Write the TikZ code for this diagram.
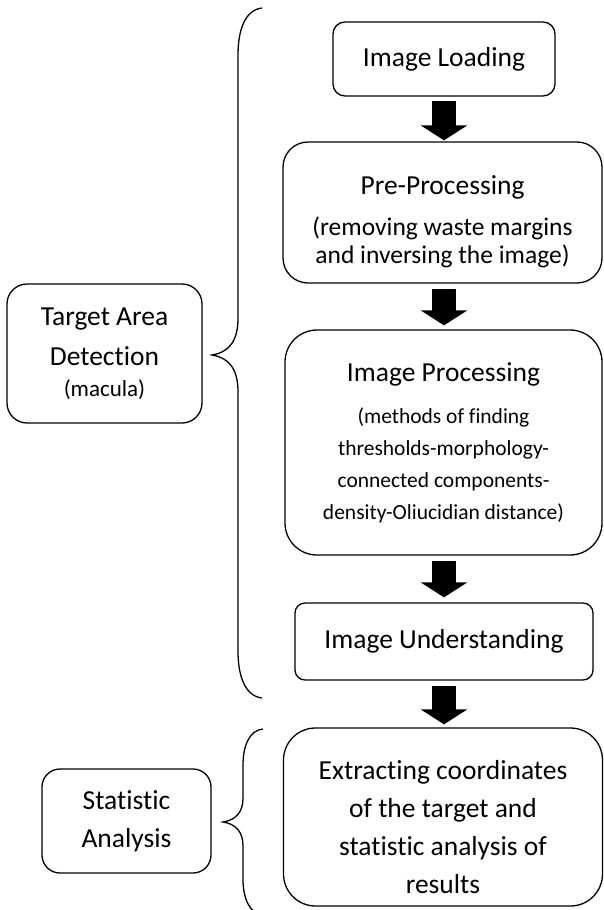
\documentclass[tikz,border=0pt]{standalone}
\usepackage{fontspec}
\setmainfont{Carlito}[RawFeature={-liga;-clig;-dlig}]
\usepackage{tikz}
\usetikzlibrary{arrows.meta, calc}
\newcommand{\subtxt}{\fontsize{25.5}{28}\selectfont}
\newcommand{\smalltxt}{\fontsize{21.5}{32}\selectfont}

\begin{document}
\begin{tikzpicture}[x=1pt, y=-1pt,
  box/.style={draw, line width=1.3pt, align=center, inner sep=0pt, font=\fontsize{27.5}{38}\selectfont},
  blockarrow/.style={line width=24pt, -{Triangle[width=46pt, length=15pt]}},
  brace/.style={line width=1.3pt}]
  \useasboundingbox (0, 0) rectangle (603, 910);
  \node[box, rounded corners=12pt, minimum width=222pt, minimum height=74pt] (load) at (444, 59) {Image Loading};
  \node[box, rounded corners=25pt, minimum width=319pt, minimum height=141pt] (pre) at (442.5, 212.5)
    {\rule{0pt}{38pt}Pre-Processing\\[3pt] \subtxt (removing waste margins\\[-10pt] \subtxt and inversing the image)};
  \node[box, rounded corners=32pt, minimum width=317pt, minimum height=225pt] (proc) at (443.5, 442.5)
    {Image Processing\\[4pt] \smalltxt (methods of finding\\[-6pt] \smalltxt thresholds-morphology-\\[-6pt]
     \smalltxt connected components-\\[-6pt] \smalltxt density-Oliucidian distance)};
  \node[box, rounded corners=10pt, minimum width=298pt, minimum height=77pt] (under) at (444, 641.5) {Image Understanding};
  \node[box, rounded corners=32pt, minimum width=319pt, minimum height=178pt] (extract) at (443, 817)
    {\rule{0pt}{40pt}Extracting coordinates\\ of the target and\\ statistic analysis of\\ results};
  \node[box, rounded corners=20pt, minimum width=195pt, minimum height=139pt] (target) at (104.5, 353.5)
    {Target Area\\[2pt] Detection\\[-7pt] \fontsize{23}{28}\selectfont (macula)};
  \node[box, rounded corners=18pt, minimum width=169pt, minimum height=104pt] (stat) at (126.5, 821)
    {Statistic\\ Analysis};

  \draw[blockarrow] ([yshift=-4pt]load.south) -- ([yshift=1pt]load.south |- pre.north);
  \draw[blockarrow] ([yshift=-5pt]pre.south -| load.south) -- ([yshift=4pt]load.south |- proc.north);
  \draw[blockarrow] ([yshift=-5pt]proc.south -| load.south) -- ([yshift=5pt]load.south |- under.north);
  \draw[blockarrow] ([yshift=-5pt]under.south) -- ([yshift=3pt]under.south |- extract.north);

  % braces
  \draw[brace] (262, 8) .. controls (245, 10) and (238, 30) .. (238, 55) -- (238, 318)
    .. controls (238, 340) and (230, 352) .. (212, 355)
    .. controls (230, 358) and (238, 370) .. (238, 392) -- (238, 651)
    .. controls (238, 676) and (245, 696) .. (262, 698);
  \draw[brace] (263, 729) .. controls (250, 730) and (243, 745) .. (243, 765) -- (243, 798)
    .. controls (243, 812) and (236, 820) .. (223, 822)
    .. controls (236, 824) and (243, 832) .. (243, 846) -- (243, 879)
    .. controls (243, 899) and (250, 914) .. (263, 915);
\end{tikzpicture}
\end{document}
